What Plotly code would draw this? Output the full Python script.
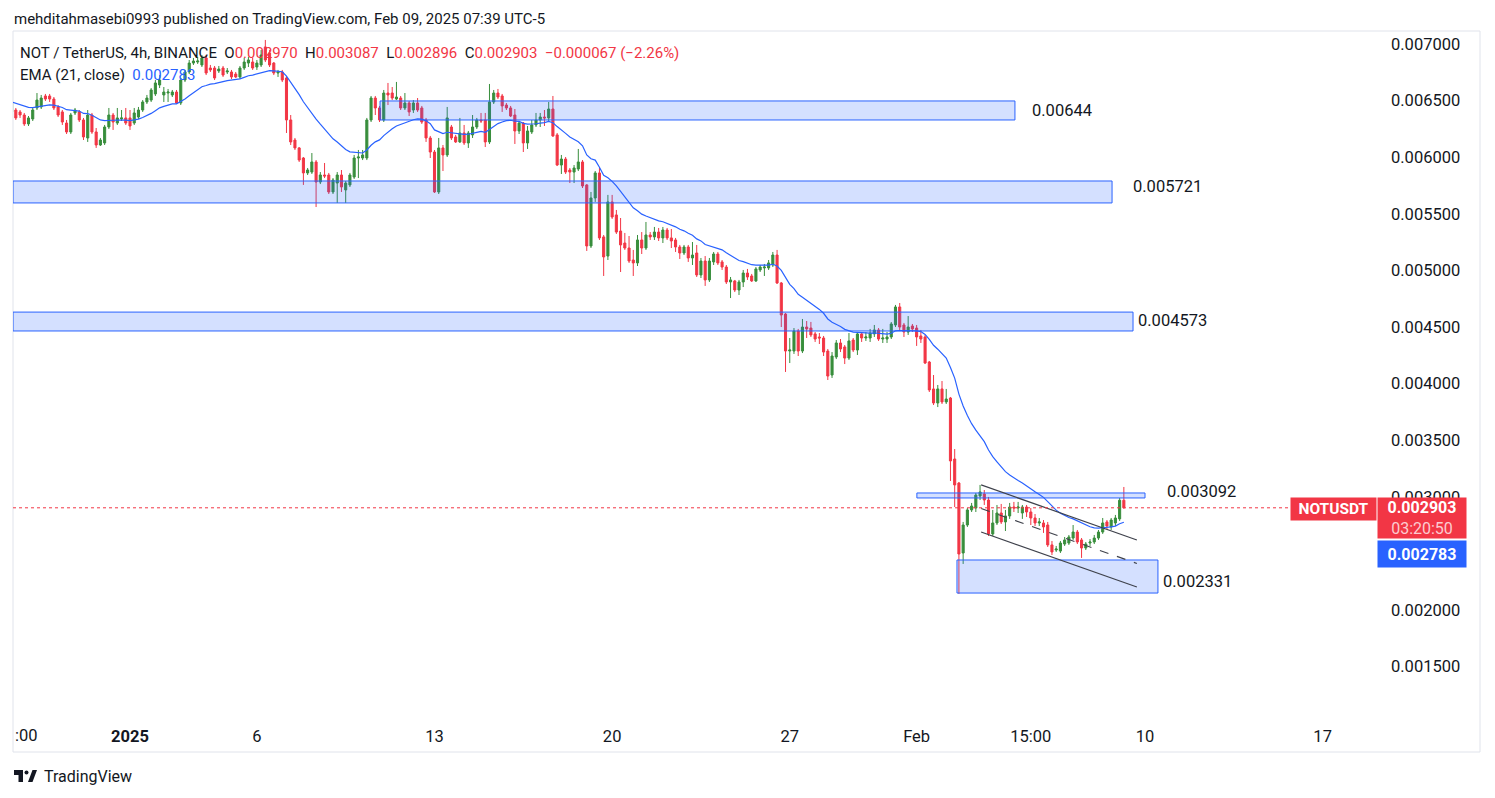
import pandas as pd
import plotly.graph_objects as go

# ---------------- data (prices in 1e-6 USDT) ----------------
U = 1e-6
opens_u = [
 6400,6417,6400,6373,6294,6338,6435,6444,6541,6541,6514,6444,6400,6302,6223,6391,6400,6329,6170,6373,6223,6108,6126,6267,6373,6302,6338,6347,6347,6302,
 6355,6417,6488,6505,6559,6638,6550,6567,6550,6576,6479,6682,6753,6832,6841,6815,6877,6788,6788,6762,6788,6753,6753,6735,6709,6788,6832,
 6841,6797,6815,6974,6921,6832,6744,6753,6700,6329,6152,6082,5993,5861,5869,5958,5781,5843,5843,5693,5772,5843,5711,5755,5825,5993,5993,5993,
 6329,6523,6435,6329,6567,6567,6514,6523,6435,6479,6417,6479,6435,6329,6170,6046,5693,6082,6020,6267,6179,6135,6214,6126,6197,6267,6329,6329,6135,
 6488,6567,6541,6461,6435,6373,6232,6302,6126,6223,6285,6329,6355,6347,6426,6197,5931,5984,5887,5869,5896,5958,5755,5216,5640,5861,5296,5127,
 5605,5490,5348,5242,5198,5092,5066,5269,5198,5313,5296,5339,5287,5357,5287,5269,5207,5154,5207,5110,5154,4960,5083,4916,5075,5145,5075,5030,
 4898,4907,4827,4898,4977,4951,4907,5004,5022,5022,5048,5136,4889,4615,4288,4288,4465,4288,4500,4491,4439,4412,4403,4288,4076,4235,4359,4324,4226,
 4385,4297,4439,4403,4403,4439,4474,4394,4394,4412,4518,4677,4518,4456,4509,4491,4421,4412,4191,3953,3829,3953,3838,3873,3334,3122,2504,2751,
 2884,2901,3007,3025,2972,2672,2769,2857,2778,2831,2910,2901,2857,2910,2866,2813,2769,2769,2751,2575,2530,2521,2583,2592,2636,2689,2619,2548,2592,2601,2636,2689,2778,2734,2769,2805,2970,
]
highs_u = [
 6505,6435,6417,6391,6364,6435,6567,6550,6559,6559,6532,6461,6417,6329,6391,6435,6417,6347,6417,6391,6258,6170,6285,6435,6391,6435,6417,6435,6417,6435,
 6444,6505,6550,6611,6682,6726,6620,6603,6594,6594,6700,6771,6859,6877,6885,6903,6903,6815,6806,6806,6806,6788,6771,6753,6806,6877,6885,
 6877,6859,6947,7036,6947,6841,6771,6771,6718,6373,6170,6090,6002,5905,6037,5975,5869,5949,5861,5816,5869,5887,5790,5861,6020,6064,6064,6347,
 6541,6541,6453,6594,6656,6620,6665,6541,6567,6497,6505,6523,6453,6347,6188,6064,6170,6108,6444,6285,6197,6347,6285,6232,6373,6347,6391,6391,6647,
 6594,6603,6559,6479,6453,6426,6320,6311,6276,6329,6391,6391,6417,6488,6541,6214,6020,6002,5905,5931,6073,5975,5763,5693,5878,5905,5313,5667,
 5667,5534,5463,5331,5304,5181,5313,5339,5428,5339,5384,5375,5384,5375,5366,5287,5225,5225,5225,5251,5225,5110,5127,5110,5163,5163,5092,5048,
 4942,4916,4916,5004,5013,4969,5030,5048,5057,5092,5163,5181,4898,4624,4403,4491,4483,4571,4553,4545,4456,4447,4421,4306,4279,4385,4394,4341,4447,
 4403,4456,4456,4456,4483,4518,4491,4483,4456,4544,4695,4712,4536,4597,4527,4518,4474,4430,4200,4076,3988,4023,3953,3882,3422,3131,2778,2901,
 2946,3034,3105,3060,2999,2884,2928,2937,2884,2946,2955,2955,2928,2928,2901,2848,2813,2795,2778,2610,2566,2610,2645,2663,2751,2707,2636,2601,2627,2663,2707,2813,2795,2813,2840,2990,3087,
]
lows_u = [
 6382,6329,6347,6276,6276,6320,6417,6426,6497,6488,6417,6355,6285,6205,6205,6373,6311,6152,6135,6206,6082,6099,6108,6249,6241,6285,6320,6285,6241,6285,
 6338,6400,6470,6488,6541,6611,6488,6488,6532,6470,6461,6664,6735,6815,6824,6797,6726,6753,6682,6744,6709,6735,6691,6700,6691,6771,6797,
 6771,6771,6797,6841,6797,6726,6709,6664,6214,6108,6064,5958,5755,5843,5852,5560,5763,5816,5675,5675,5596,5693,5596,5737,5808,5816,5975,5975,
 6311,6373,6311,6311,6461,6505,6505,6417,6417,6364,6391,6400,6294,6135,5993,5684,5675,5878,6002,6152,6126,6126,6108,6082,6170,6249,6302,6090,6117,
 6470,6514,6400,6417,6355,6117,6205,6046,6073,6205,6267,6267,6276,6311,6179,5922,5852,5852,5772,5772,5878,5728,5172,5198,5605,5269,4951,5092,
 5455,5322,4986,5181,5066,4951,5039,5145,5181,5269,5269,5260,5242,5269,5198,5163,5101,5136,5075,5048,4942,4933,4863,4898,5048,5048,5004,4880,
 4756,4809,4783,4853,4916,4898,4898,4986,4951,5004,5030,4880,4500,4103,4182,4262,4244,4270,4403,4412,4368,4350,4244,4032,4050,4217,4279,4173,4209,
 4279,4253,4368,4377,4368,4412,4377,4359,4359,4394,4500,4474,4412,4430,4456,4333,4359,4173,3926,3811,3793,3820,3820,3140,2910,2142,2407,2734,
 2866,2866,2972,2928,2654,2654,2751,2760,2698,2805,2866,2857,2805,2822,2751,2742,2742,2681,2557,2486,2513,2504,2566,2575,2619,2583,2460,2530,2566,2583,2619,2672,2716,2707,2742,2787,2896,
]
closes_u = [
 6488,6347,6373,6294,6347,6417,6505,6523,6514,6514,6435,6373,6311,6223,6373,6417,6329,6179,6373,6223,6108,6152,6267,6373,6311,6347,6347,6302,6276,6391,
 6417,6488,6523,6594,6656,6682,6576,6576,6576,6479,6682,6753,6832,6850,6850,6877,6744,6771,6700,6779,6726,6762,6709,6709,6788,6841,6859,
 6788,6832,6903,6859,6815,6744,6753,6682,6329,6135,6082,5975,5861,5887,5958,5781,5843,5834,5693,5799,5843,5737,5772,5843,5993,6002,6020,6329,
 6523,6435,6329,6567,6550,6523,6532,6435,6479,6400,6479,6417,6311,6170,6046,5693,6082,6020,6347,6170,6135,6214,6126,6214,6267,6329,6320,6135,6488,
 6567,6532,6453,6435,6364,6232,6302,6126,6232,6285,6329,6355,6347,6426,6188,5931,5984,5869,5869,5905,5958,5746,5216,5640,5861,5287,5119,5605,
 5472,5339,5225,5198,5083,5066,5269,5198,5313,5296,5339,5287,5357,5287,5260,5207,5154,5207,5110,5136,4960,5083,4916,5083,5145,5066,5030,4898,
 4916,4827,4898,4977,4942,4907,5013,5030,5030,5066,5136,4889,4606,4288,4297,4465,4288,4500,4483,4430,4394,4403,4279,4067,4244,4359,4306,4226,4377,
 4297,4439,4403,4412,4447,4474,4394,4403,4412,4527,4677,4500,4456,4500,4483,4412,4394,4182,3944,3829,3953,3838,3864,3317,3105,2495,2751,2884,
 2919,3016,3043,2972,2672,2769,2857,2778,2831,2910,2901,2910,2910,2866,2813,2769,2778,2734,2575,2513,2539,2592,2619,2645,2689,2601,2548,2583,2601,2636,2689,2769,2742,2795,2813,2970,2903,
]
last_bar = "2025-02-09 04:00"
bar_freq = "4h"
ema_len = 21
ema_last_read = 0.002783

# horizontal zones drawn on the chart
zone_labels = ["0.00644", "0.005721", "0.004573", "0.003092", "0.002331"]
zone_top = [0.006497, 0.005790, 0.004632, 0.003034, 0.002442]
zone_bot = [0.006329, 0.005596, 0.004465, 0.002990, 0.002150]
zone_start = ["2025-01-10 20:30", "2024-12-27 09:20", "2024-12-27 09:20", "2025-02-01 00:15", "2025-02-02 14:10"]
zone_end = ["2025-02-04 21:00", "2025-02-08 16:50", "2025-02-09 12:40", "2025-02-10 00:00", "2025-02-10 12:15"]
zone_label_price = [0.006413, 0.005737, 0.004562, 0.003043, 0.002256]

# descending channel
chan_t = ["2025-02-03 13:00", "2025-02-09 16:20"]
chan_upper = [0.003105, 0.002619]
chan_lower = [0.002689, 0.002203]

x_range = ["2024-12-27 09:20", "2025-02-19 06:16"]
y_range = [0.0010285, 0.007115]
x_tick_dates = ["2025-01-01", "2025-01-06", "2025-01-13", "2025-01-20", "2025-01-27",
                "2025-02-01", "2025-02-05 12:00", "2025-02-10", "2025-02-17"]
x_tick_text = ["<b>2025</b>", "6", "13", "20", "27", "Feb", "15:00", "10", "17"]
# 0.002500 is hidden behind the EMA price label in the reference
y_ticks = [0.0015, 0.002, 0.003, 0.0035, 0.004, 0.0045, 0.005, 0.0055, 0.006, 0.0065, 0.007]

# ---------------- build ----------------
n = min(len(opens_u), len(highs_u), len(lows_u), len(closes_u))
o = [v * U for v in opens_u[:n]]
c = [v * U for v in closes_u[:n]]
h = [max(a, b, d) * U for a, b, d in zip(highs_u[:n], opens_u[:n], closes_u[:n])]
l = [min(a, b, d) * U for a, b, d in zip(lows_u[:n], opens_u[:n], closes_u[:n])]
t = pd.date_range(end=last_bar, periods=n, freq=bar_freq)
ema = pd.Series(c).ewm(span=ema_len, adjust=False).mean()

GREEN = "#388e3c"
RED = "#f23645"
BLUE = "#2962ff"
TXT = "#131722"
FONT = "Roboto"

fig = go.Figure()
fig.add_trace(go.Candlestick(
    x=t, open=o, high=h, low=l, close=c,
    increasing=dict(line=dict(color=GREEN, width=1), fillcolor=GREEN),
    decreasing=dict(line=dict(color=RED, width=1), fillcolor=RED),
    whiskerwidth=0, showlegend=False, hoverinfo="skip"))
fig.add_trace(go.Scatter(x=t, y=ema, mode="lines", line=dict(color=BLUE, width=1.2),
                         showlegend=False, hoverinfo="skip"))

# pixel helpers for layout placement
L, R, T, B = 13, 1380, 31, 720
def px(x):
    return (x - L) / (R - L)
def py(y):
    return (B - y) / (B - T)

shapes = []
annots = []
# frame
shapes.append(dict(type="rect", xref="paper", yref="paper", x0=px(13), x1=px(1480), y0=py(752), y1=py(31),
                   line=dict(color="#e0e3eb", width=1), fillcolor="rgba(0,0,0,0)", layer="below"))
# zones
for lab, top, bot, s, e, lp in zip(zone_labels, zone_top, zone_bot, zone_start, zone_end, zone_label_price):
    shapes.append(dict(type="rect", xref="x", yref="y", x0=s, x1=e, y0=bot, y1=top,
                       line=dict(color=BLUE, width=1), fillcolor="rgba(41,98,255,0.2)", layer="above"))
zone_shift = [15, 19, 3, 20, 3]
for lab, e, lp, sh in zip(zone_labels, zone_end, zone_label_price, zone_shift):
    annots.append(dict(x=e, y=lp, xref="x", yref="y", text=lab, showarrow=False, xanchor="left",
                       yanchor="middle", xshift=sh, font=dict(family=FONT, size=16.5, color=TXT)))
# channel
chan_mid = [(a + b) / 2 for a, b in zip(chan_upper, chan_lower)]
path = (f"M {chan_t[0]},{chan_upper[0]} L {chan_t[1]},{chan_upper[1]} "
        f"L {chan_t[1]},{chan_lower[1]} L {chan_t[0]},{chan_lower[0]} Z")
shapes.append(dict(type="path", xref="x", yref="y", path=path, fillcolor="rgba(120,123,134,0.12)",
                   line=dict(width=0), layer="above"))
for ys, dash in ((chan_upper, "solid"), (chan_lower, "solid"), (chan_mid, "dash")):
    shapes.append(dict(type="line", xref="x", yref="y", x0=chan_t[0], x1=chan_t[1], y0=ys[0], y1=ys[1],
                       line=dict(color="#3f424c", width=1.2, dash=dash), layer="above"))
# last price dotted line
shapes.append(dict(type="line", xref="paper", yref="y", x0=0, x1=px(1290), y0=c[-1], y1=c[-1],
                   line=dict(color=RED, width=1, dash="dot"), layer="above"))

# header / legend
NB = "\u00a0"
annots.append(dict(x=px(12), y=py(19), xref="paper", yref="paper", xanchor="left", yanchor="middle",
                   showarrow=False, text="mehditahmasebi0993 published on TradingView.com, Feb 09, 2025 07:39 UTC-5",
                   font=dict(family=FONT, size=15, color=TXT)))
chg = c[-1] - c[-2]
pct = chg / c[-2] * 100
def red(s):
    return f"<span style='color:{RED}'>{s}</span>"
leg1 = (f"NOT / TetherUS, 4h, BINANCE{NB}{NB}O{red(f'{o[-1]:.6f}')}{NB}{NB}H{red(f'{h[-1]:.6f}')}"
        f"{NB}{NB}L{red(f'{l[-1]:.6f}')}{NB}{NB}C{red(f'{c[-1]:.6f}')}{NB}{NB}"
        + red(f"{chg:+.6f} ({pct:+.2f}%)".replace("-", "\u2212")))
annots.append(dict(x=px(18), y=py(53), xref="paper", yref="paper", xanchor="left", yanchor="middle",
                   showarrow=False, text=leg1, font=dict(family=FONT, size=15, color=TXT)))
leg2 = f"EMA (21, close){NB}{NB}<span style='color:{BLUE}'>{ema_last_read:.6f}</span>"
annots.append(dict(x=px(18), y=py(75), xref="paper", yref="paper", xanchor="left", yanchor="middle",
                   showarrow=False, text=leg2, font=dict(family=FONT, size=15, color=TXT)))

# price labels at right
annots.append(dict(x=px(1333.5), y=c[-1], xref="paper", yref="y", xanchor="center", yanchor="middle",
                   showarrow=False, text="<b>NOTUSDT</b>",
                   bgcolor=RED, width=85, height=22, borderpad=0, yshift=-1.5,
                   font=dict(family=FONT, size=15.5, color="white")))
annots.append(dict(x=px(1422), y=c[-1], xref="paper", yref="y", xanchor="center", yanchor="middle",
                   showarrow=False,
                   text=f"<b>{c[-1]:.6f}</b><br><span style='color:#fccbd0'>03:20:50</span>",
                   bgcolor=RED, width=88, height=40, borderpad=0, yshift=-10,
                   font=dict(family=FONT, size=16, color="white")))
annots.append(dict(x=px(1422), y=ema_last_read, xref="paper", yref="y", xanchor="center", yanchor="middle",
                   showarrow=False,
                   text=f"<b>{ema_last_read:.6f}</b>", bgcolor=BLUE, width=88, height=26, borderpad=0,
                   yshift=-32.5, font=dict(family=FONT, size=16, color="white")))
# left cut-off time label
annots.append(dict(x=px(13), y=py(735), xref="paper", yref="paper", xanchor="left", yanchor="middle",
                   showarrow=False, text=":00", font=dict(family=FONT, size=16.5, color=TXT)))
# bottom brand
annots.append(dict(x=px(42), y=py(776), xref="paper", yref="paper", xanchor="left", yanchor="middle",
                   showarrow=False, text="TradingView", font=dict(family=FONT, size=16, color=TXT)))
# logo
shapes.append(dict(type="rect", xref="paper", yref="paper", x0=px(14), x1=px(23), y0=py(775), y1=py(770),
                   fillcolor=TXT, line=dict(width=0)))
shapes.append(dict(type="rect", xref="paper", yref="paper", x0=px(18.5), x1=px(23), y0=py(782), y1=py(770),
                   fillcolor=TXT, line=dict(width=0)))
shapes.append(dict(type="circle", xref="paper", yref="paper", x0=px(24.5), x1=px(28.5), y0=py(774.5), y1=py(770.5),
                   fillcolor=TXT, line=dict(width=0)))
shapes.append(dict(type="path", xref="paper", yref="paper",
                   path=f"M {px(28)},{py(782)} L {px(32.5)},{py(782)} L {px(37)},{py(770)} L {px(32.5)},{py(770)} Z",
                   fillcolor=TXT, line=dict(width=0)))

fig.update_layout(
    width=1495, height=798,
    margin=dict(l=L, r=1495 - R, t=T, b=798 - B),
    paper_bgcolor="white", plot_bgcolor="white",
    font=dict(family=FONT, color=TXT),
    showlegend=False,
    shapes=shapes, annotations=annots,
    xaxis=dict(type="date", range=x_range, rangeslider=dict(visible=False), showgrid=False,
               zeroline=False, showline=False, ticks="", tickmode="array",
               tickvals=x_tick_dates, ticktext=x_tick_text, ticklabelstandoff=4,
               tickfont=dict(family=FONT, size=16.5, color=TXT)),
    yaxis=dict(side="right", range=y_range, showgrid=False, zeroline=False, showline=False,
               ticks="", tickmode="array", tickvals=y_ticks, tickformat=".6f",
               ticklabelstandoff=10, tickfont=dict(family=FONT, size=16.5, color=TXT)),
)

fig.write_html("out.html", config={"displayModeBar": False},
               post_script="document.body.style.margin='0';")
